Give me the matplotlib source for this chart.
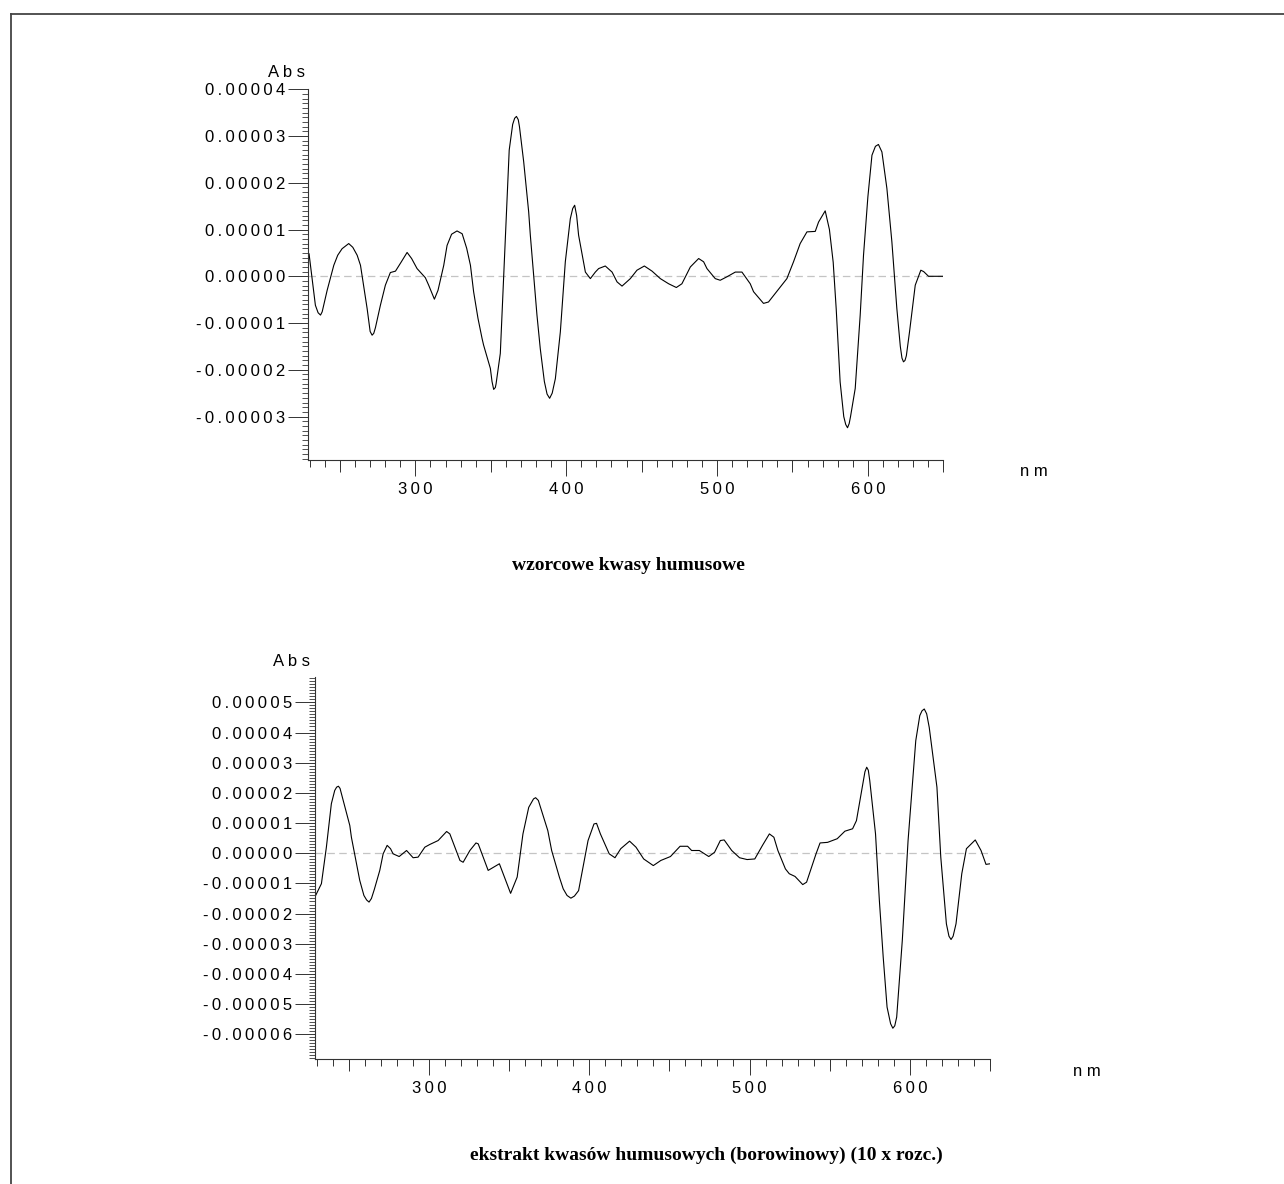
import numpy as np
import matplotlib
matplotlib.use("Agg")
import matplotlib.pyplot as plt
from matplotlib.ticker import MultipleLocator, FuncFormatter
from matplotlib.lines import Line2D

plt.rcParams['font.family'] = ['Liberation Sans', 'DejaVu Sans']

# widmo pochodne - wzorcowe kwasy humusowe (Abs w jednostkach 1e-5)
nm_top = [229.5, 233.7, 235.5, 237.1, 238.2, 239.2, 241.5, 245.9, 248.5, 251.4,
          255.8, 258.5, 261.4, 263.6, 268.0, 270.0, 271.3, 272.4, 273.5, 276.8,
          280.1, 283.4, 286.8, 290.5, 294.5, 297.5, 301.1, 306.6, 308.8, 312.6,
          315.0, 318.8, 321.0, 324.0, 327.6, 331.0, 334.0, 336.5, 338.6, 341.5,
          344.2, 345.2, 349.7, 350.8, 351.9, 353.0, 353.5, 356.3, 358.5, 362.2,
          364.5, 365.8, 367.0, 368.2, 369.0, 371.8, 375.1, 376.2, 378.5, 380.6,
          382.8, 385.5, 387.3, 389.0, 390.7, 392.8, 396.1, 399.4, 402.7, 404.3,
          405.6, 406.9, 408.2, 412.7, 416.0, 419.3, 421.5, 425.9, 430.4, 433.7,
          437.0, 442.5, 446.9, 451.8, 456.9, 462.4, 467.9, 473.0, 476.7, 482.3,
          487.8, 491.1, 493.3, 498.8, 502.1, 506.6, 512.1, 516.5, 522.0, 524.2,
          530.8, 534.1, 537.5, 546.3, 550.7, 555.1, 559.6, 565.1, 567.3, 571.7,
          574.5, 577.0, 579.0, 581.6, 584.0, 585.3, 586.5, 587.6, 588.5, 591.6,
          594.9, 597.1, 600.0, 602.7, 605.0, 607.0, 609.3, 612.6, 615.9, 619.2,
          621.5, 622.6, 623.6, 624.6, 625.5, 627.6, 631.4, 635.1, 637.0, 640.2,
          650.0]
abs_top = [0.48, -0.62, -0.78, -0.83, -0.76, -0.62, -0.30, 0.235, 0.45, 0.59,
           0.70, 0.62, 0.45, 0.235, -0.69, -1.18, -1.26, -1.22, -1.10, -0.62,
           -0.19, 0.08, 0.11, 0.30, 0.51, 0.38, 0.165, -0.03, -0.19, -0.49,
           -0.30, 0.235, 0.66, 0.90, 0.97, 0.91, 0.60, 0.235, -0.33, -0.90,
           -1.33, -1.47, -1.97, -2.25, -2.42, -2.38, -2.30, -1.65, -0.03, 2.70,
           3.25, 3.38, 3.42, 3.35, 3.20, 2.45, 1.38, 0.88, 0.00, -0.83,
           -1.55, -2.25, -2.52, -2.61, -2.50, -2.19, -1.19, 0.31, 1.23, 1.45,
           1.52, 1.30, 0.88, 0.09, -0.05, 0.09, 0.165, 0.22, 0.09, -0.12,
           -0.21, -0.05, 0.13, 0.22, 0.11, -0.05, -0.16, -0.24, -0.16, 0.20,
           0.38, 0.31, 0.165, -0.05, -0.085, -0.01, 0.09, 0.09, -0.16, -0.33,
           -0.58, -0.55, -0.41, -0.05, 0.31, 0.70, 0.95, 0.96, 1.16, 1.40,
           1.00, 0.30, -0.70, -2.26, -3.00, -3.17, -3.24, -3.15, -3.00, -2.40,
           -0.83, 0.45, 1.70, 2.59, 2.78, 2.82, 2.66, 1.88, 0.74, -0.69,
           -1.50, -1.75, -1.83, -1.80, -1.70, -1.19, -0.19, 0.13, 0.10, 0.00,
           0.00]

# ekstrakt borowinowy (10 x rozc.)
nm_bot = [229.4, 233.0, 236.1, 239.2, 241.3, 242.5, 243.6, 244.6, 245.5, 250.7,
          251.7, 256.9, 259.5, 261.2, 262.7, 264.2, 266.0, 269.4, 271.5, 274.0,
          276.1, 277.7, 281.5, 286.1, 290.2, 293.3, 297.5, 300.6, 305.8, 311.1,
          313.1, 319.4, 321.4, 325.6, 329.4, 330.8, 337.0, 344.0, 347.9, 351.0,
          355.1, 358.7, 362.3, 365.3, 366.6, 368.3, 374.2, 376.6, 381.4, 383.8,
          386.2, 388.6, 390.8, 393.4, 399.3, 403.0, 404.6, 407.0, 412.5, 416.1,
          419.7, 425.2, 429.2, 434.0, 440.0, 444.7, 450.7, 456.7, 461.4, 463.9,
          468.7, 474.6, 478.2, 481.8, 484.2, 488.9, 493.8, 498.5, 503.3, 508.1,
          512.4, 515.2, 517.7, 522.4, 524.8, 528.4, 533.2, 535.6, 541.5, 544.0,
          548.7, 554.7, 559.5, 564.3, 566.7, 570.3, 572.0, 573.1, 574.1, 575.0,
          578.6, 581.0, 583.4, 585.8, 588.0, 589.4, 590.6, 591.8, 595.3, 598.9,
          603.7, 606.2, 607.6, 609.0, 610.5, 612.1, 616.9, 619.3, 622.8, 624.4,
          625.7, 627.0, 628.8, 632.4, 635.3, 640.8, 644.4, 647.5, 650.0]
abs_bot = [-1.40, -1.01, 0.20, 1.64, 2.08, 2.19, 2.22, 2.15, 1.97, 0.92,
           0.53, -0.90, -1.40, -1.55, -1.62, -1.50, -1.20, -0.57, -0.02, 0.26,
           0.15, -0.02, -0.11, 0.09, -0.15, -0.13, 0.20, 0.29, 0.42, 0.72,
           0.64, -0.24, -0.30, 0.09, 0.34, 0.31, -0.57, -0.35, -0.90, -1.33,
           -0.79, 0.64, 1.52, 1.80, 1.84, 1.75, 0.75, 0.09, -0.79, -1.18,
           -1.40, -1.49, -1.42, -1.24, 0.42, 0.97, 0.99, 0.64, -0.02, -0.15,
           0.15, 0.40, 0.20, -0.19, -0.41, -0.24, -0.11, 0.23, 0.23, 0.09,
           0.09, -0.11, 0.03, 0.42, 0.44, 0.09, -0.15, -0.21, -0.19, 0.26,
           0.64, 0.53, 0.09, -0.52, -0.68, -0.77, -1.04, -0.96, -0.02, 0.34,
           0.36, 0.48, 0.73, 0.81, 1.08, 2.19, 2.70, 2.85, 2.75, 2.41,
           0.64, -1.57, -3.45, -5.10, -5.65, -5.80, -5.72, -5.43, -2.89, 0.42,
           3.73, 4.56, 4.72, 4.78, 4.62, 4.17, 2.19, -0.13, -2.34, -2.75,
           -2.86, -2.75, -2.34, -0.68, 0.15, 0.44, 0.09, -0.37, -0.35]

titles = ["wzorcowe kwasy humusowe",
          "ekstrakt kwasów humusowych (borowinowy) (10 x rozc.)"]
x_range = (229, 650)
ylims = [(-0.0000393, 0.00004), (-0.0000683, 0.0000585)]
yticks = [np.arange(-3, 5) * 1e-5, np.arange(-6, 6) * 1e-5]

W, H = 1284, 1184
AX = '#333333'
FS = 12


def spaced(s):
    return '\u2009'.join(s)


def ylab(v, pos):
    return spaced('%.5f' % (0.0 if abs(v) < 1e-12 else v))


def xlab(v, pos):
    return spaced('%d' % round(v))


def panel(rect, nm, a, ylim, yt, title, abs_xy, nm_xy, title_xy):
    ax = fig.add_axes(rect)
    ax.plot(nm, np.array(a) * 1e-5, color='black', lw=0.8)
    ax.axhline(0, color='#c4c4c4', lw=0.9, ls=(0, (6, 3.5)), zorder=0)
    ax.set_xlim(*x_range)
    ax.set_ylim(*ylim)
    for s in ('top', 'right'):
        ax.spines[s].set_visible(False)
    for s in ('left', 'bottom'):
        ax.spines[s].set_color(AX)
        ax.spines[s].set_linewidth(0.8)

    ax.set_yticks(yt)
    ax.yaxis.set_minor_locator(MultipleLocator(1e-6))
    ax.yaxis.set_major_formatter(FuncFormatter(ylab))
    ax.xaxis.set_major_locator(MultipleLocator(100))
    ax.xaxis.set_minor_locator(MultipleLocator(10))
    ax.xaxis.set_major_formatter(FuncFormatter(xlab))
    ax.tick_params(axis='y', which='major', length=14.5, width=0.7, color=AX,
                   labelsize=FS, pad=2)
    ax.tick_params(axis='y', which='minor', length=4.5, width=0.6, color=AX)
    ax.tick_params(axis='x', which='major', length=11.5, width=0.7, color=AX,
                   labelsize=FS, pad=4)
    ax.tick_params(axis='x', which='minor', length=5, width=0.7, color=AX)

    # dluzsze kreski co 50 nm
    sec = ax.secondary_xaxis('bottom')
    sec.set_xticks(np.arange(250, 651, 100))
    sec.tick_params(length=8.5, width=0.7, color=AX, labelbottom=False)
    sec.spines['bottom'].set_visible(False)

    fig.text(abs_xy[0] / W, 1 - abs_xy[1] / H, 'A b s', fontsize=FS,
             ha='center', va='center')
    fig.text(nm_xy[0] / W, 1 - nm_xy[1] / H, 'n m', fontsize=FS,
             ha='center', va='center')
    fig.text(title_xy[0] / W, 1 - title_xy[1] / H, title, fontsize=14,
             family='Liberation Serif', weight='bold', ha='center', va='center')
    return ax


fig = plt.figure(figsize=(W / 100, H / 100), dpi=100)

panel([308.3 / W, 1 - 460 / H, 635 / W, 370.7 / H], nm_top, abs_top,
      ylims[0], yticks[0], titles[0], (286.7, 72.7), (1034, 471.7), (628, 565))
panel([315 / W, 1 - 1059.3 / H, 675 / W, 382.6 / H], nm_bot, abs_bot,
      ylims[1], yticks[1], titles[1], (291.7, 661.7), (1086.7, 1071.7), (706.7, 1155))

# ramka strony
x0, y0 = 11 / W, 1 - 14 / H
fig.add_artist(Line2D([x0, 1], [y0, y0], color='#444444', lw=1.3))
fig.add_artist(Line2D([x0, x0], [y0, 0], color='#444444', lw=1.3))

fig.savefig('out.png', dpi=100)
